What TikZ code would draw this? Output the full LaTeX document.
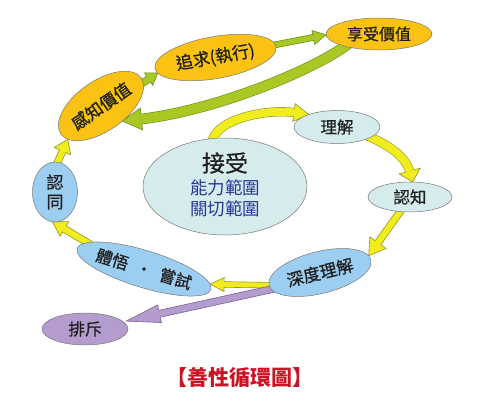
\documentclass[tikz,border=0pt]{standalone}
\usepackage{fontspec}
\newfontfamily\cjk{Noto Sans CJK TC}
\newfontfamily\cjkm[FakeBold=0.6]{Noto Sans CJK TC}
\usetikzlibrary{calc,shapes.geometric}
\pgfdeclarelayer{bg}
\pgfsetlayers{bg,main}
\definecolor{orangeC}{RGB}{250,194,18}
\definecolor{blueC}{RGB}{155,206,240}
\definecolor{cyanC}{RGB}{214,236,236}
\definecolor{purpC}{RGB}{180,156,206}
\definecolor{yfill}{RGB}{240,236,30}
\definecolor{yline}{RGB}{150,148,40}
\definecolor{gfill}{RGB}{168,200,35}
\definecolor{gline}{RGB}{110,140,30}
\definecolor{pline}{RGB}{120,95,150}
\definecolor{txtblue}{RGB}{40,55,150}
\definecolor{titlered}{RGB}{200,20,35}
\definecolor{edge}{RGB}{120,120,120}
% straight block arrow: style, tail, tip, shaft half width, head half width, head length
\newcommand\blkarrow[6]{%
  \coordinate (sa-p) at (#3);
  \coordinate (sa-t0) at (#2);
  \coordinate (sa-t) at ($(sa-t0)!-5pt!(sa-p)$);
  \coordinate (sa-h) at ($(sa-p)!#6!(sa-t)$);
  \filldraw[#1] ($(sa-t)!#4!90:(sa-p)$) -- ($(sa-h)!#4!90:(sa-p)$) -- ($(sa-h)!#5!90:(sa-p)$) -- (sa-p) -- ($(sa-h)!#5!-90:(sa-p)$) -- ($(sa-h)!#4!-90:(sa-p)$) -- ($(sa-t)!#4!-90:(sa-p)$) -- cycle;
}
% curved block arrow: kind, start, c1, c2, head base, tip, shaft width, head half width
\newcommand\crvarrow[8]{%
  \coordinate (ca-p) at (#6);
  \coordinate (ca-h) at (#5);
  \coordinate (ca-s0) at (#2);
  \coordinate (ca-s) at ($(ca-s0)!-5pt!(#3)$);
  \draw[#1B, line width=#7+1.2pt] (ca-s) .. controls (#3) and (#4) .. (ca-h);
  \filldraw[#1H] ($(ca-h)!#8!90:(ca-p)$) -- (ca-p) -- ($(ca-h)!#8!-90:(ca-p)$) -- cycle;
  \draw[#1F, line width=#7] (ca-s) .. controls (#3) and (#4) .. (ca-h);
  \draw[#1F, line width=#7] (ca-h) -- ($(ca-h)!0.8pt!(ca-p)$);
}
\begin{document}
\begin{tikzpicture}[x=1pt,y=-1pt,
  oval/.style={ellipse, draw=edge, line width=0.5pt, inner sep=0pt, outer sep=0pt,
    font=\cjkm\fontsize{16.5}{19}\selectfont, text=black!88},
  grnH/.style={fill=gfill, draw=gline, line width=0.6pt},
  grnB/.style={draw=gline},
  grnF/.style={draw=gfill},
  yelH/.style={fill=yfill, draw=yline, line width=0.6pt},
  yelB/.style={draw=yline},
  yelF/.style={draw=yfill},
  purH/.style={fill=purpC, draw=pline, line width=0.6pt}]
\useasboundingbox (0,0) rectangle (480,405);
% nodes
\node[oval, fill=orangeC, minimum width=123pt, minimum height=42pt, rotate=10, font=\cjkm\fontsize{17}{19}\selectfont] (zq) at (215.5,57.5) {追求(執行)};
\node[oval, fill=orangeC, minimum width=106pt, minimum height=32pt, font=\cjkm\fontsize{16}{19}\selectfont] (xs) at (379,34) {享受價值};
\node[oval, fill=orangeC, minimum width=98pt, minimum height=50pt, rotate=35, font=\cjkm\fontsize{17}{19}\selectfont] (gz) at (101,106) {感知價值};
\node[oval, fill=blueC, minimum width=45pt, minimum height=60pt, align=center, font=\cjkm\fontsize{17}{19.5}\selectfont] (rt) at (55,192) {認\\同};
\node[oval, fill=blueC, minimum width=138pt, minimum height=37pt, rotate=-17] (tw) at (144,269) {體悟\hspace{0.5em}・\hspace{0.5em}嘗試};
\node[oval, fill=purpC, minimum width=86pt, minimum height=32pt] (pc) at (85,329) {排斥};
\node[oval, fill=blueC, minimum width=105pt, minimum height=42pt, rotate=14, font=\cjkm\fontsize{17}{19}\selectfont] (sd) at (320,272.5) {深度理解};
\node[oval, fill=cyanC, minimum width=84pt, minimum height=30pt] (rz) at (410,197) {認知};
\node[oval, fill=cyanC, minimum width=86pt, minimum height=33pt] (lj) at (337,127) {理解};
\node[oval, fill=cyanC, minimum width=164pt, minimum height=97pt] (js) at (225,186.5) {};
\node[font=\cjkm\fontsize{23}{25}\selectfont, text=black!88] (t1) at (225,163) {接受};
\node[font=\cjk\fontsize{17.5}{19}\selectfont, text=txtblue] (t2) at (225,188) {能力範圍};
\node[font=\cjk\fontsize{17.5}{19}\selectfont, text=txtblue] (t3) at (225,209) {關切範圍};
\node[font=\cjk\bfseries\fontsize{21}{23}\selectfont, text=titlered] (title) at (240,377) {【善性循環圖】};
% arrows
\begin{pgfonlayer}{bg}
\fill[white] (0,0) rectangle (480,405);
\blkarrow{grnH}{gz.-6}{zq.185}{3.5pt}{7.5pt}{11pt}
\blkarrow{grnH}{zq.2}{xs.181}{3pt}{7pt}{13pt}
\crvarrow{grn}{xs.200}{318,68}{218,110}{$(gz.-70)+(19,-2)$}{gz.-70}{9.5pt}{11pt}
\crvarrow{yel}{js.105}{213,120}{264,108.7}{$(lj.156)+(-15,-2)$}{lj.156}{8pt}{9pt}
\crvarrow{yel}{lj.-17}{385,143}{404.6,154.7}{$(rz.80)+(-3,-11)$}{rz.80}{8pt}{11pt}
\blkarrow{yelH}{rz.-124}{sd.5}{3.5pt}{10pt}{16pt}
\blkarrow{yelH}{sd.180}{tw.4}{2.8pt}{7pt}{14pt}
\blkarrow{yelH}{tw.172}{rt.-95}{3.5pt}{8.5pt}{14pt}
\blkarrow{yelH}{rt.85}{gz.190}{3.5pt}{9pt}{13pt}
\blkarrow{purH}{sd.185}{$(pc.12)+(4,0)$}{3.5pt}{9pt}{34pt}
\end{pgfonlayer}
\end{tikzpicture}
\end{document}
